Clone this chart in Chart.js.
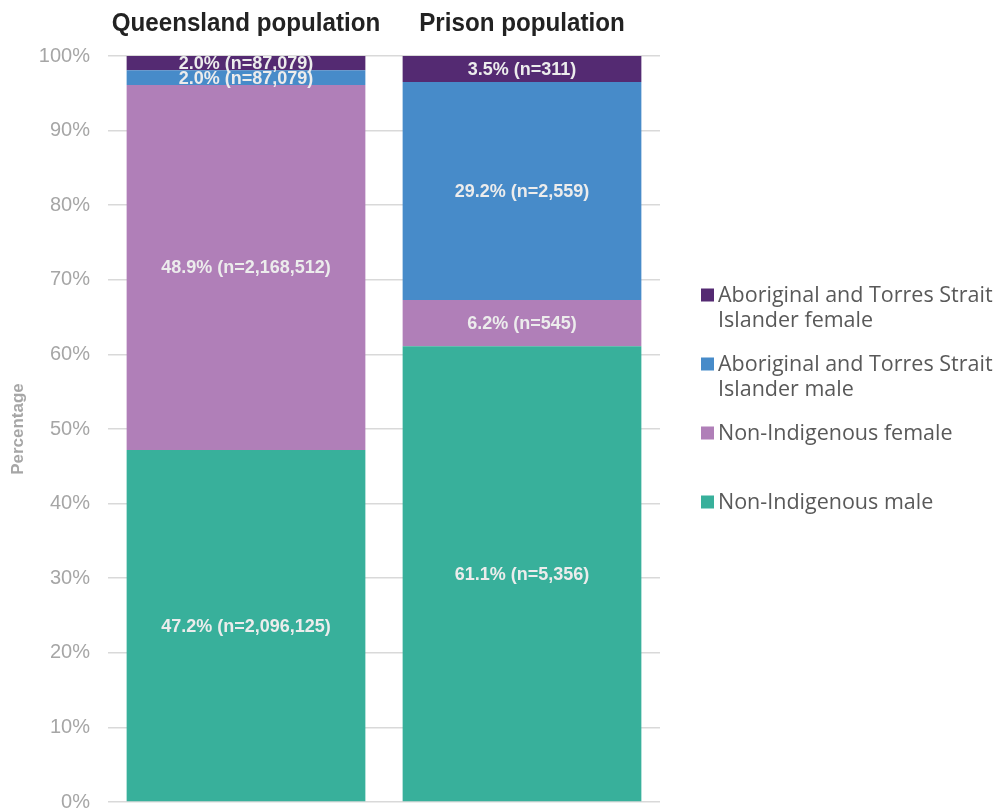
<!DOCTYPE html>
<html>
<head>
<meta charset="utf-8">
<script src="https://cdn.jsdelivr.net/npm/chart.js@4"></script>
<style>
html,body{margin:0;padding:0;background:#fff;}
#wrap{width:997px;height:811px;position:relative;}
</style>
</head>
<body>
<div id="wrap"><canvas id="c" width="997" height="811"></canvas></div>
<script>
const categories = ["Queensland population", "Prison population"];
const seriesNames = [
  "Non-Indigenous male",
  "Non-Indigenous female",
  "Aboriginal and Torres Strait Islander male",
  "Aboriginal and Torres Strait Islander female"
];
const nonIndigenousMale = [47.2, 61.1];
const nonIndigenousFemale = [48.9, 6.2];
const atsiMale = [2.0, 29.2];
const atsiFemale = [2.0, 3.5];
const countsNonIndigenousMale = [2096125, 5356];
const countsNonIndigenousFemale = [2168512, 545];
const countsAtsiMale = [87079, 2559];
const countsAtsiFemale = [87079, 311];
const yTicks = [0, 10, 20, 30, 40, 50, 60, 70, 80, 90, 100];
const colors = ["#38b09b", "#b07fb8", "#478bc9", "#542a72"];

const valueSets = [nonIndigenousMale, nonIndigenousFemale, atsiMale, atsiFemale];
const countSets = [countsNonIndigenousMale, countsNonIndigenousFemale, countsAtsiMale, countsAtsiFemale];

const datasets = seriesNames.map((name, i) => ({
  label: name,
  data: valueSets[i],
  counts: countSets[i],
  backgroundColor: colors[i],
  borderWidth: 0,
  categoryPercentage: 0.865,
  barPercentage: 1.0
}));

const barLabels = {
  id: 'barLabels',
  afterDatasetsDraw(chart) {
    const ctx = chart.ctx;
    ctx.save();
    ctx.font = 'bold 18px "Liberation Sans", Arial, sans-serif';
    ctx.fillStyle = '#ececec';
    ctx.textAlign = 'center';
    ctx.textBaseline = 'middle';
    chart.data.datasets.forEach((ds, di) => {
      const meta = chart.getDatasetMeta(di);
      meta.data.forEach((el, i) => {
        const v = ds.data[i];
        const txt = v.toFixed(1) + '% (n=' + ds.counts[i].toLocaleString('en-US') + ')';
        const y = (el.y + el.base) / 2;
        ctx.fillText(txt, el.x, y + 1);
      });
    });
    ctx.restore();
  }
};

const catTitles = {
  id: 'catTitles',
  afterDraw(chart) {
    const ctx = chart.ctx;
    const xs = chart.scales.x;
    ctx.save();
    ctx.font = 'bold 26px "Liberation Sans", Arial, sans-serif';
    ctx.fillStyle = '#222222';
    ctx.textAlign = 'center';
    ctx.textBaseline = 'middle';
    const squeeze = 0.93;
    chart.data.labels.forEach((lab, i) => {
      const cx = xs.getPixelForValue(i);
      ctx.save();
      ctx.translate(cx, 24);
      ctx.scale(squeeze, 1);
      ctx.fillText(lab, 0, 0);
      ctx.restore();
    });
    ctx.restore();
  }
};

const sideLegend = {
  id: 'sideLegend',
  afterDraw(chart) {
    const ctx = chart.ctx;
    ctx.save();
    ctx.font = '21.5px "Open Sans", "Liberation Sans", Arial, sans-serif';
    ctx.textBaseline = 'middle';
    ctx.textAlign = 'left';
    const maxW = 285;
    const items = chart.data.datasets.map((d, i) => ({label: d.label, color: d.backgroundColor})).reverse();
    let y0 = 295;
    items.forEach((it, k) => {
      const yc = y0 + k * 69;
      ctx.fillStyle = it.color;
      ctx.fillRect(701, yc - 6.5, 13, 13);
      const words = it.label.split(' ');
      const lines = [];
      let cur = '';
      words.forEach(w => {
        const t = cur ? cur + ' ' + w : w;
        if (ctx.measureText(t).width > maxW && cur) { lines.push(cur); cur = w; }
        else cur = t;
      });
      if (cur) lines.push(cur);
      ctx.fillStyle = '#595959';
      lines.forEach((ln, j) => ctx.fillText(ln, 718, yc + 1 + j * 25));
    });
    ctx.restore();
  }
};

new Chart(document.getElementById('c'), {
  type: 'bar',
  data: { labels: categories, datasets },
  options: {
    responsive: false,
    animation: false,
    layout: { padding: { left: 0, right: 337, top: 0, bottom: 9 } },
    plugins: {
      legend: { display: false },
      tooltip: { enabled: false }
    },
    scales: {
      x: {
        stacked: true,
        position: 'top',
        grid: { display: false },
        border: { display: false },
        ticks: { display: false },
        afterFit(s) { s.height = 56; s.paddingLeft = 0; s.paddingRight = 0; }
      },
      y: {
        stacked: true,
        min: 0,
        max: 100,
        afterBuildTicks(s) { s.ticks = yTicks.map(v => ({ value: v })); },
        grid: { color: '#d9d9d9', lineWidth: 1.5, drawTicks: false },
        border: { display: false },
        ticks: {
          color: '#a6a6a6',
          font: { family: '"Liberation Sans", Arial, sans-serif', size: 20 },
          padding: 18,
          callback: v => v + '%'
        },
        title: {
          display: true,
          text: 'Percentage',
          color: '#a6a6a6',
          font: { family: '"Liberation Sans", Arial, sans-serif', size: 17, weight: 'bold' },
          padding: { top: 8, bottom: 0 }
        },
        afterFit(s) { s.width = 108; s.paddingTop = 0; s.paddingBottom = 0; }
      }
    }
  },
  plugins: [barLabels, catTitles, sideLegend]
});
</script>
</body>
</html>
